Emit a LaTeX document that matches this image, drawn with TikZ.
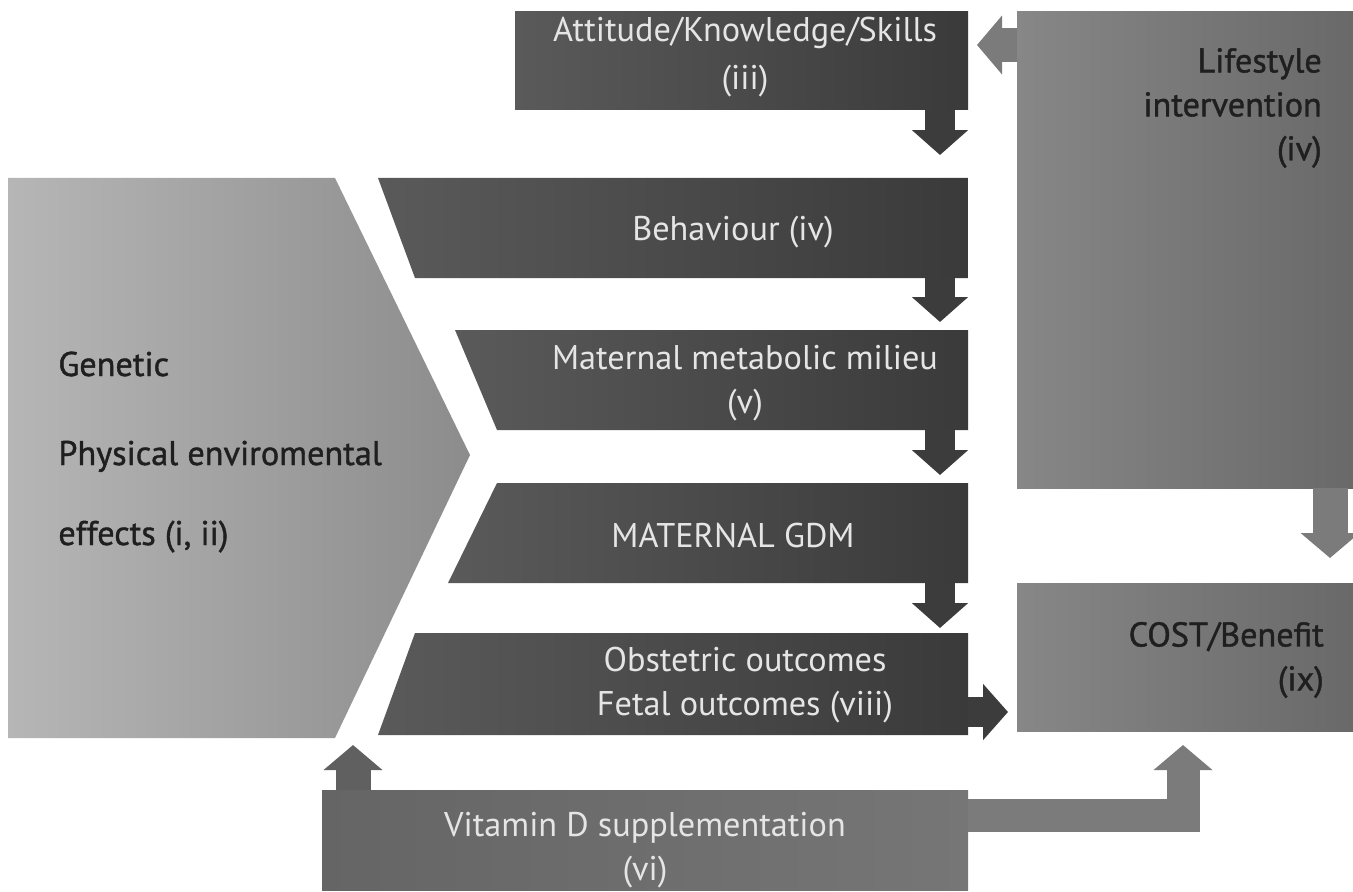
\documentclass[tikz,border=0pt]{standalone}
\usepackage{fontspec}
\setmainfont{PT Sans}
\usetikzlibrary{arrows.meta,positioning}
\definecolor{darkL}{HTML}{5A5A5A}
\definecolor{darkR}{HTML}{3A3A3A}
\definecolor{genL}{HTML}{B6B6B6}
\definecolor{genR}{HTML}{8C8C8C}
\definecolor{lifeL}{HTML}{878787}
\definecolor{lifeR}{HTML}{696969}
\definecolor{vitL}{HTML}{656565}
\definecolor{vitR}{HTML}{767676}
\definecolor{arrDark}{HTML}{3C3C3C}
\definecolor{arrMid}{HTML}{7B7B7B}
\tikzstyle{darkbox}=[left color=darkL, right color=darkR]
\tikzstyle{genbox}=[left color=genL, right color=genR]
\tikzstyle{lifebox}=[left color=lifeL, right color=lifeR]
\tikzstyle{vitbox}=[left color=vitL, right color=vitR]
\tikzstyle{lighttext}=[text=white!90!black, align=center, font=\fontsize{19.5}{25}\selectfont]
\tikzstyle{darktext}=[text=black!88, font=\fontsize{19.5}{25}\selectfont\addfontfeatures{FakeBold=1.2}]
\tikzstyle{stepArrow}=[draw=arrDark, line width=6mm, -{Triangle[length=5mm, width=11mm]}]
\tikzstyle{sideArrow}=[draw=arrMid, line width=7mm, -{Triangle[length=5mm, width=11.5mm]}]

\begin{document}
\begin{tikzpicture}[x=0.02cm, y=-0.02cm]
    \useasboundingbox (0,0) rectangle (1353,892);

    % boxes
    \shade[genbox] (8,178) -- (335,178) -- (470,455) -- (335,738) -- (8,738) -- cycle;
    \shade[darkbox] (515,12) rectangle (968,110);
    \shade[darkbox] (378,178) -- (968,178) -- (968,278) -- (415,278) -- cycle;
    \shade[darkbox] (455,330) -- (968,330) -- (968,430) -- (497,430) -- cycle;
    \shade[darkbox] (497,483) -- (968,483) -- (968,583) -- (448,583) -- cycle;
    \shade[darkbox] (415,633) -- (968,633) -- (968,735) -- (378,735) -- cycle;
    \shade[lifebox] (1017,12) rectangle (1353,488);
    \shade[lifebox] (1017,583) rectangle (1353,731);
    \shade[vitbox] (322,790) rectangle (968,890);

    % texts
    \node[lighttext, font=\fontsize{19.5}{27}\selectfont] (att) at (745,57) {Attitude/Knowledge/Skills\\(iii)};
    \node[lighttext] (beh) at (733,232) {Behaviour (iv)};
    \node[lighttext] (met) at (745,383) {Maternal metabolic milieu\\(v)};
    \node[lighttext] (gdm) at (733,536) {MATERNAL GDM};
    \node[lighttext] (obs) at (745,685) {Obstetric outcomes\\Fetal outcomes (viii)};
    \node[lighttext] (vit) at (645,850) {Vitamin D supplementation\\(vi)};
    \node[darktext, anchor=east, align=right] (life) at (1328,108) {Lifestyle\\intervention\\(iv)};
    \node[darktext, anchor=east, align=right] (cost) at (1330,660) {COST/Benefit\\(ix)};
    \node[darktext, inner sep=0pt, anchor=base west] (gen1) at (58,376) {Genetic};
    \node[darktext, inner sep=0pt, anchor=base west] (gen2) at (58,465) {Physical enviromental};
    \node[darktext, inner sep=0pt, anchor=base west] (gen3) at (58,545) {effects (i, ii)};

    % arrow ends
    \coordinate (attS) at (940,110);
    \coordinate (behN) at (940,155);
    \coordinate (behS) at (940,278);
    \coordinate (metN) at (940,322);
    \coordinate (metS) at (940,430);
    \coordinate (gdmN) at (940,475);
    \coordinate (gdmS) at (940,583);
    \coordinate (obsN) at (940,628);
    \coordinate (obsE) at (968,712);
    \coordinate (costW) at (1008,712);
    \coordinate (lifeW) at (1017,45);
    \coordinate (attE) at (977,45);
    \coordinate (lifeS) at (1330,488);
    \coordinate (costN) at (1330,558);
    \coordinate (vitN) at (353,790);
    \coordinate (genS) at (353,745);
    \coordinate (vitE) at (968,815);
    \coordinate (costS) at (1183,745);

    % chain arrows
    \draw[stepArrow] (attS) -- (behN);
    \draw[stepArrow] (behS) -- (metN);
    \draw[stepArrow] (metS) -- (gdmN);
    \draw[stepArrow] (gdmS) -- (obsN);
    \draw[stepArrow] (obsE) -- (costW);

    % side arrows
    \draw[sideArrow] (lifeW) -- (attE);
    \draw[sideArrow] (lifeS) -- (costN);
    \draw[sideArrow, draw=vitL!95!black] (vitN) -- (genS);
    \draw[sideArrow, line width=6.6mm] (vitE) -| (costS);
\end{tikzpicture}
\end{document}
